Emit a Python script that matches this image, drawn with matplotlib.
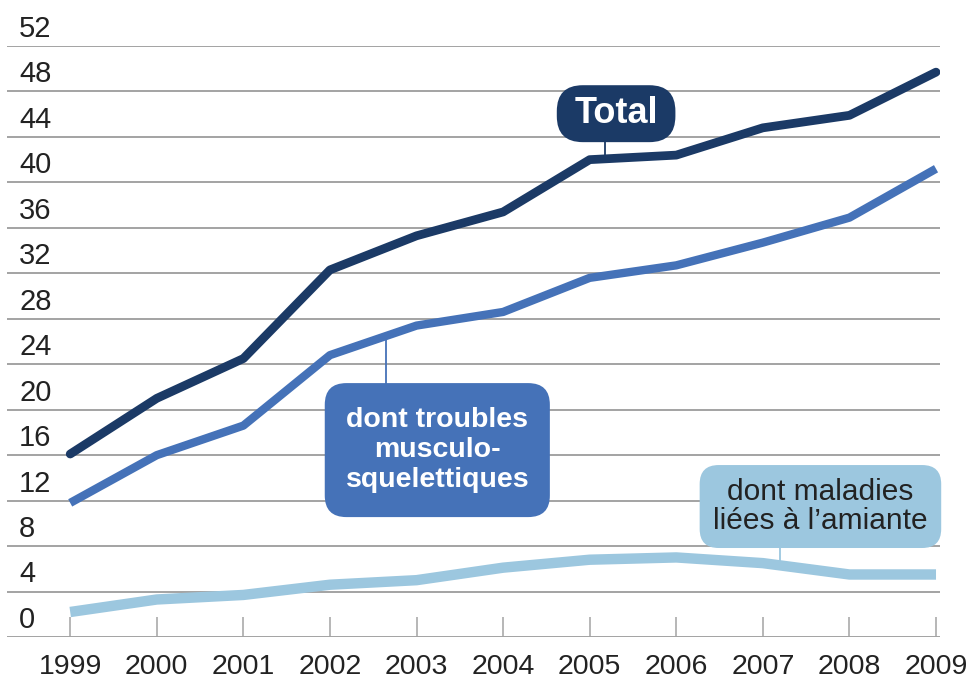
import matplotlib
matplotlib.use('Agg')
import matplotlib.pyplot as plt
from matplotlib import font_manager
from matplotlib.patches import FancyBboxPatch

# police condensée si dispo
noms = set(f.name for f in font_manager.fontManager.ttflist)
if 'Liberation Sans Narrow' in noms:
    police = ['Liberation Sans Narrow', 'DejaVu Sans']
else:
    police = ['Liberation Sans', 'DejaVu Sans']
plt.rcParams['font.family'] = police

# données
annees = [1999, 2000, 2001, 2002, 2003, 2004, 2005, 2006, 2007, 2008, 2009]
total = [16.1, 21.0, 24.5, 32.3, 35.3, 37.4, 42.0, 42.4, 44.8, 45.9, 49.7]
tms = [11.8, 16.0, 18.6, 24.8, 27.4, 28.6, 31.6, 32.7, 34.7, 36.9, 41.2]
amiante = [2.2, 3.3, 3.7, 4.6, 5.0, 6.1, 6.8, 7.0, 6.5, 5.5, 5.5]
yticks = list(range(0, 53, 4))

c_total = '#1b3a66'
c_tms = '#4572b8'
c_amiante = '#9cc7df'
c_grille = '#a3a3a3'
c_texte = '#222222'

fig = plt.figure(figsize=(9.73, 6.81), dpi=100)
ax = fig.add_axes([7 / 973, 44 / 681, 933 / 973, 591 / 681])
ax.set_xlim(1998.27, 2009.046)
ax.set_ylim(0, 52)
for s in ax.spines.values():
    s.set_visible(False)

# grille horizontale
for v in yticks:
    ax.axhline(v, color=c_grille, lw=1.4, zorder=1)
    ax.text(0.013, v + 0.8, str(v), transform=ax.get_yaxis_transform(),
            ha='left', va='baseline', fontsize=21, color=c_texte)
ax.set_yticks([])

ax.set_xticks(annees)
ax.set_xticklabels([str(a) for a in annees], fontsize=20.5, color=c_texte)
ax.tick_params(axis='x', direction='in', length=14.5, width=1.1,
               color=c_grille, pad=12)

# courbes
ax.plot(annees, amiante, color=c_amiante, lw=7.5, solid_capstyle='butt', zorder=3)
ax.plot(annees, tms, color=c_tms, lw=6, solid_capstyle='butt', zorder=4)
ax.plot(annees, total, color=c_total, lw=6.3, solid_capstyle='round',
        solid_joinstyle='round', zorder=5)

aspect = 86.6 / 11.37


def etiquette(x0, x1, y0, y1, r, couleur, texte, coul_txt, taille, gras, interligne,
              lx, ly_bas, ly_haut):
    ax.plot([lx, lx], [ly_bas, ly_haut], color=couleur, lw=1.3, zorder=6)
    boite = FancyBboxPatch((x0, y0), x1 - x0, y1 - y0,
                           boxstyle='round,pad=0,rounding_size=%f' % r,
                           mutation_aspect=aspect, fc=couleur, ec='none',
                           zorder=7, clip_on=False)
    ax.add_patch(boite)
    ax.text((x0 + x1) / 2, (y0 + y1) / 2, texte, ha='center', va='center',
            color=coul_txt, fontsize=taille,
            fontweight='bold' if gras else 'normal', linespacing=interligne, zorder=8)


etiquette(2004.62, 2005.99, 43.54, 48.55, 0.30, c_total, 'Total', 'white', 26, True, 1.0,
          2005.18, 42.0, 44.0)
etiquette(2001.94, 2004.54, 10.55, 22.34, 0.25, c_tms,
          'dont troubles\nmusculo-\nsquelettiques', 'white', 20.5, True, 1.2,
          2002.65, 20.0, 26.3)
etiquette(2006.27, 2009.06, 7.83, 15.13, 0.22, c_amiante,
          'dont maladies\nliées à l\u2019amiante', c_texte, 21.5, False, 1.08,
          2007.2, 6.3, 9.0)

fig.savefig('out.png', dpi=100)
